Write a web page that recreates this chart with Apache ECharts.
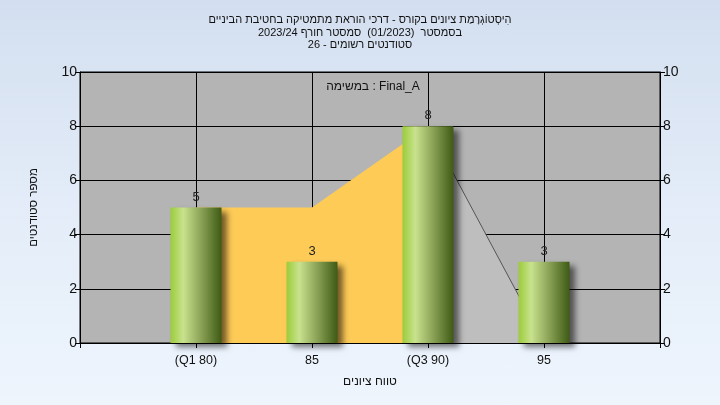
<!DOCTYPE html>
<html>
<head>
<meta charset="utf-8">
<script src="https://cdn.jsdelivr.net/npm/echarts@6/dist/echarts.min.js"></script>
<style>
html,body{margin:0;padding:0;}
#c{width:720px;height:405px;background:linear-gradient(180deg,#d3dff0 0%,#e3ecf8 50%,#eef5fd 100%);}
</style>
</head>
<body>
<div id="c"></div>
<script>
const titleLines = ['הִיסְטוֹגְרָמַת ציונים בקורס - דרכי הוראת מתמטיקה בחטיבת הביניים', 'בסמסטר  (01/2023)  סמסטר חורף 2023/24', 'סטודנטים רשומים - 26'];
const subTitle = 'במשימה : Final_A';
const xTicks = [80, 85, 90, 95];
const xTickLabels = ['(Q1 80)', '85', '(Q3 90)', '95'];
const counts = [5, 3, 8, 3];
const quartileX = [80, 85, 90];
const quartileY = [5, 5, 8];
const tailX = [90, 95];
const tailY = [8, 0];
const yTicks = [0, 2, 4, 6, 8, 10];

const font = '"Liberation Sans", Arial, sans-serif';
const chart = echarts.init(document.getElementById('c'), null, {renderer: 'canvas'});
const labelFor = v => { const i = xTicks.indexOf(v); return i >= 0 ? xTickLabels[i] : ''; };
const barColor = new echarts.graphic.LinearGradient(0, 0, 1, 0, [
  {offset: 0, color: '#9ccc3a'},
  {offset: 0.25, color: '#c8e28e'},
  {offset: 0.55, color: '#93ab5e'},
  {offset: 1, color: '#3e5a14'}
]);
const yAxisCommon = {
  type: 'value', min: yTicks[0], max: yTicks[yTicks.length - 1], interval: 2,
  axisLine: {show: true, lineStyle: {color: '#000', width: 1}},
  axisTick: {show: true, length: 5, lineStyle: {color: '#000'}},
  axisLabel: {color: '#111', fontSize: 14, fontFamily: font, margin: 3},
  splitLine: {show: true, lineStyle: {color: '#000', width: 1}}
};
chart.setOption({
  backgroundColor: 'transparent',
  animation: false,
  title: [
    {text: titleLines.join('\n'), left: 'center', top: 9,
     textStyle: {fontSize: 11, fontWeight: 'normal', color: '#111', fontFamily: font, lineHeight: 12.5}},
    {text: subTitle, left: 368, top: 76, textAlign: 'center',
     textStyle: {fontSize: 12, fontWeight: 'normal', color: '#111', fontFamily: font}}
  ],
  grid: {left: 80, right: 60, top: 72, bottom: 62, show: true, backgroundColor: '#b4b4b4', borderColor: '#000', borderWidth: 1},
  xAxis: {
    type: 'value', min: 75, max: 100, interval: 5,
    name: 'טווח ציונים', nameLocation: 'middle', nameGap: 33,
    nameTextStyle: {fontSize: 12, color: '#111', fontFamily: font},
    axisLine: {show: true, onZero: false, lineStyle: {color: '#000'}},
    axisTick: {show: true, length: 5, lineStyle: {color: '#000'}},
    axisLabel: {color: '#111', fontSize: 12.5, fontFamily: font, margin: 11, formatter: v => labelFor(v)},
    splitLine: {show: true, lineStyle: {color: '#000', width: 1}}
  },
  yAxis: [
    Object.assign({}, yAxisCommon, {position: 'left', name: 'מספר סטודנטים', nameLocation: 'middle', nameGap: 40,
      nameTextStyle: {fontSize: 11.5, color: '#111', fontFamily: font}}),
    Object.assign({}, yAxisCommon, {position: 'right', splitLine: {show: false}})
  ],
  series: [
    {type: 'line', data: quartileX.map((x, i) => [x, quartileY[i]]), symbol: 'none',
     lineStyle: {width: 0, color: '#fecb57'}, areaStyle: {color: '#fecb57', opacity: 1}, z: 2, silent: true},
    {type: 'line', data: tailX.map((x, i) => [x, tailY[i]]), symbol: 'none',
     lineStyle: {width: 1, color: '#555'}, areaStyle: {color: '#bebebe', opacity: 1}, z: 2, silent: true},
    {type: 'bar', data: xTicks.map((x, i) => [x, counts[i]]), barWidth: 51, z: 3,
     itemStyle: {color: barColor, shadowColor: 'rgba(0,0,0,0.55)', shadowBlur: 6, shadowOffsetX: 5, shadowOffsetY: 4},
     label: {show: true, position: 'top', distance: 4, color: '#222', fontSize: 13, fontFamily: font}}
  ]
});
</script>
</body>
</html>
